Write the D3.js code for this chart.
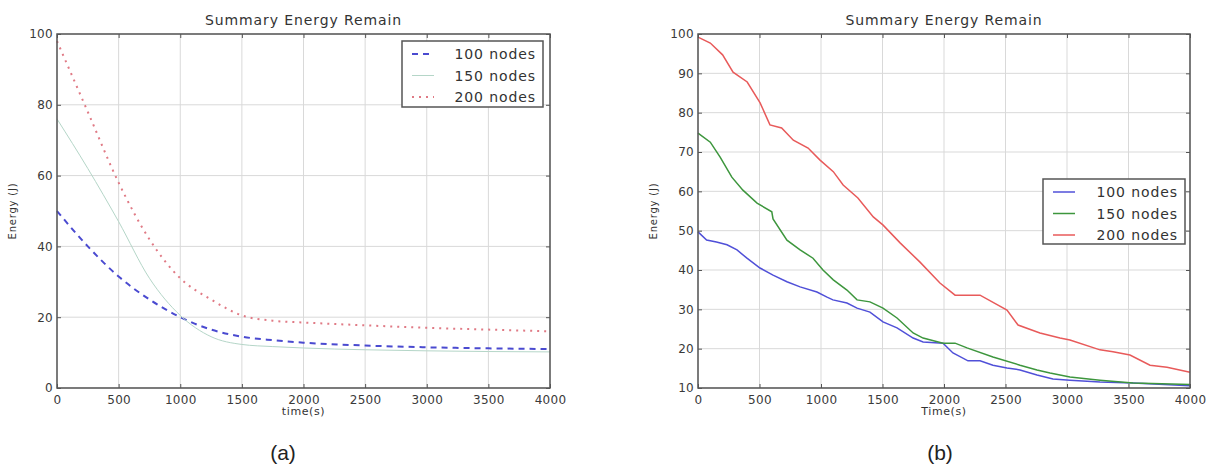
<!DOCTYPE html>
<head>
    <meta charset="utf-8">
    <style>
        body { margin: 0; background: #fff; }
        text { font-family: "DejaVu Sans", sans-serif; fill: #333; }
        .grid line { stroke: #d9d9d9; stroke-width: 1px; }
        .frame { fill: none; stroke: #555; stroke-width: 1.5px; }
        .legend { fill: #fff; stroke: #555; stroke-width: 1.5px; }
    </style>
</head>

<body>
    <script src="https://d3js.org/d3.v7.min.js"></script>

    <script>
        // panel (a): smooth curves
        var timeA = [0, 250, 500, 750, 1000, 1250, 1500, 1750, 2000, 2500, 3000, 3500, 4000];
        var a100 = [50, 40, 31.5, 25, 20, 16.5, 14.5, 13.5, 12.8, 12, 11.5, 11.2, 11];
        var a150 = [76, 62, 47, 31, 20.5, 14.5, 12.3, 11.7, 11.3, 10.8, 10.5, 10.3, 10.2];
        var a200 = [98, 78, 58, 42, 31, 25, 20.5, 19, 18.5, 17.7, 17, 16.5, 16];

        // panel (b): jagged measured curves
        var tB100 = [0, 70, 150, 236, 317, 398, 504, 610, 723, 830, 967, 1049, 1097, 1211, 1293, 1398, 1504, 1618, 1749, 1830, 1992, 2073, 2195, 2293, 2398, 2512, 2618, 2756, 2886, 3024, 3268, 3537, 4000];
        var b100 = [49.7, 47.6, 47.1, 46.4, 45.1, 43, 40.5, 38.7, 37, 35.7, 34.4, 33.1, 32.4, 31.6, 30.3, 29.3, 26.8, 25.3, 22.7, 21.7, 21.4, 18.9, 16.9, 16.9, 15.8, 15.1, 14.6, 13.3, 12.3, 12, 11.5, 11.3, 10.6];
        var tB150 = [0, 100, 180, 275, 365, 480, 600, 610, 723, 830, 935, 1016, 1100, 1211, 1293, 1398, 1504, 1618, 1749, 1830, 1992, 2090, 2187, 2398, 2618, 2756, 2862, 3024, 3268, 3537, 4000];
        var b150 = [74.8, 72.5, 68.7, 63.6, 60.3, 57, 54.8, 53, 47.6, 45.1, 43, 40, 37.5, 34.9, 32.4, 31.9, 30.3, 27.8, 24, 22.7, 21.4, 21.4, 20.2, 17.9, 15.8, 14.6, 13.8, 12.8, 12, 11.3, 10.9];
        var tB200 = [0, 100, 200, 285, 400, 505, 585, 680, 775, 895, 990, 1100, 1180, 1300, 1425, 1505, 1643, 1805, 1967, 2090, 2293, 2512, 2602, 2780, 2943, 3024, 3268, 3374, 3512, 3675, 3813, 4000];
        var b200 = [99.2, 97.7, 94.7, 90.3, 87.8, 82.5, 76.9, 76.1, 73, 71, 68, 65, 61.6, 58.3, 53.5, 51.4, 46.9, 42, 36.7, 33.6, 33.6, 29.8, 26, 24, 22.7, 22.2, 19.7, 19.2, 18.4, 15.8, 15.3, 14];

        var xTicks = [0, 500, 1000, 1500, 2000, 2500, 3000, 3500, 4000];
        var yTicksA = [0, 20, 40, 60, 80, 100];
        var yTicksB = [10, 20, 30, 40, 50, 60, 70, 80, 90, 100];
        var seriesNames = ["100 nodes", "150 nodes", "200 nodes"];

        var svg = d3.select("body").append("svg")
            .attr("width", 1208)
            .attr("height", 465);

        function zip(t, v) {
            return t.map(function(d, i) { return {t: d, v: v[i]}; });
        }

        function drawPanel(p) {
            var x = d3.scaleLinear().domain([0, 4000]).range([p.left, p.right]);
            var y = d3.scaleLinear().domain(p.yDomain).range([388, 34]);
            var g = svg.append("g");

            // grid
            var grid = g.append("g").attr("class", "grid");
            grid.selectAll(".gx").data(xTicks).enter().append("line")
                .attr("x1", function(d) { return x(d); }).attr("x2", function(d) { return x(d); })
                .attr("y1", y.range()[1]).attr("y2", y.range()[0]);
            grid.selectAll(".gy").data(p.yTicks).enter().append("line")
                .attr("y1", function(d) { return y(d); }).attr("y2", function(d) { return y(d); })
                .attr("x1", p.left).attr("x2", p.right);

            // lines
            var line = d3.line()
                .curve(p.smooth ? d3.curveMonotoneX : d3.curveLinear)
                .x(function(d) { return x(d.t); })
                .y(function(d) { return y(d.v); });
            p.series.forEach(function(s) {
                g.append("path")
                    .datum(s.data)
                    .attr("fill", "none")
                    .attr("stroke", s.color)
                    .attr("stroke-width", s.width)
                    .attr("stroke-dasharray", s.dash)
                    .attr("d", line);
            });

            // axes with inward ticks, matplotlib style
            var fmt = d3.format("d");
            g.append("g")
                .attr("transform", "translate(0,388)")
                .call(d3.axisBottom(x).tickValues(xTicks).tickFormat(fmt).tickSizeInner(-4).tickSizeOuter(0).tickPadding(7))
                .call(function(a) { a.select(".domain").remove(); });
            g.append("g")
                .attr("transform", "translate(0,34)")
                .call(d3.axisTop(x).tickValues(xTicks).tickSizeInner(-4).tickSizeOuter(0).tickFormat(""))
                .call(function(a) { a.select(".domain").remove(); });
            g.append("g")
                .attr("transform", "translate(" + p.left + ",0)")
                .call(d3.axisLeft(y).tickValues(p.yTicks).tickFormat(fmt).tickSizeInner(-4).tickSizeOuter(0).tickPadding(4))
                .call(function(a) { a.select(".domain").remove(); });
            g.append("g")
                .attr("transform", "translate(" + p.right + ",0)")
                .call(d3.axisRight(y).tickValues(p.yTicks).tickSizeInner(-4).tickSizeOuter(0).tickFormat(""))
                .call(function(a) { a.select(".domain").remove(); });
            g.selectAll(".tick line").attr("stroke", "#555");
            g.selectAll(".tick text").style("font-size", "12px").style("fill", "#3a3a3a")
                .style("letter-spacing", "0.3px")
                .style("font-family", "DejaVu Sans, sans-serif");

            g.append("rect").attr("class", "frame")
                .attr("x", p.left).attr("y", 34)
                .attr("width", p.right - p.left).attr("height", 354);

            // titles
            var cx = (p.left + p.right) / 2;
            g.append("text").attr("x", cx).attr("y", 25)
                .style("text-anchor", "middle").style("font-size", "14px")
                .style("letter-spacing", "0.9px")
                .text("Summary Energy Remain");
            g.append("text").attr("x", cx).attr("y", 415)
                .style("text-anchor", "middle").style("font-size", "11px")
                .style("letter-spacing", "0.6px")
                .text(p.xLabel);
            g.append("text")
                .attr("transform", "translate(" + (p.left - 41) + "," + 211 + ") rotate(-90)")
                .style("text-anchor", "middle").style("font-size", "10px")
                .style("letter-spacing", "0.8px")
                .text("Energy (J)");
            g.append("text").attr("x", p.capX).attr("y", 460)
                .style("text-anchor", "middle").style("font-size", "21px").style("fill", "#222")
                .style("font-family", "Liberation Sans, Arial, sans-serif")
                .text(p.caption);

            // legend
            var L = p.legend;
            g.append("rect").attr("class", "legend")
                .attr("x", L.x).attr("y", L.y).attr("width", L.w).attr("height", L.h);
            p.series.forEach(function(s, i) {
                var ly = L.y + 13 + i * 21.5;
                g.append("line")
                    .attr("x1", L.x + 10).attr("x2", L.x + 32)
                    .attr("y1", ly).attr("y2", ly)
                    .attr("stroke", s.color).attr("stroke-width", s.width)
                    .attr("stroke-dasharray", s.dash);
                g.append("text").attr("x", L.x + L.w - 7).attr("y", ly + 5)
                    .style("text-anchor", "end").style("font-size", "14px")
                    .style("letter-spacing", "0.9px")
                    .text(seriesNames[i]);
            });
        }

        drawPanel({
            left: 57, right: 550, yDomain: [0, 100], yTicks: yTicksA, smooth: true,
            xLabel: "time(s)", caption: "(a)", capX: 283,
            legend: {x: 402, y: 41, w: 141, h: 66},
            series: [
                {data: zip(timeA, a100), color: "#4a4ad0", width: 2, dash: "6,5"},
                {data: zip(timeA, a150), color: "#b5d6c8", width: 1, dash: null},
                {data: zip(timeA, a200), color: "#e07a85", width: 2, dash: "2,5"}
            ]
        });

        drawPanel({
            left: 698, right: 1190, yDomain: [10, 100], yTicks: yTicksB, smooth: false,
            xLabel: "Time(s)", caption: "(b)", capX: 940,
            legend: {x: 1043, y: 179, w: 142, h: 65},
            series: [
                {data: zip(tB100, b100), color: "#5050d8", width: 1.5, dash: null},
                {data: zip(tB150, b150), color: "#3d963d", width: 1.5, dash: null},
                {data: zip(tB200, b200), color: "#e85a5a", width: 1.5, dash: null}
            ]
        });
    </script>
</body>
